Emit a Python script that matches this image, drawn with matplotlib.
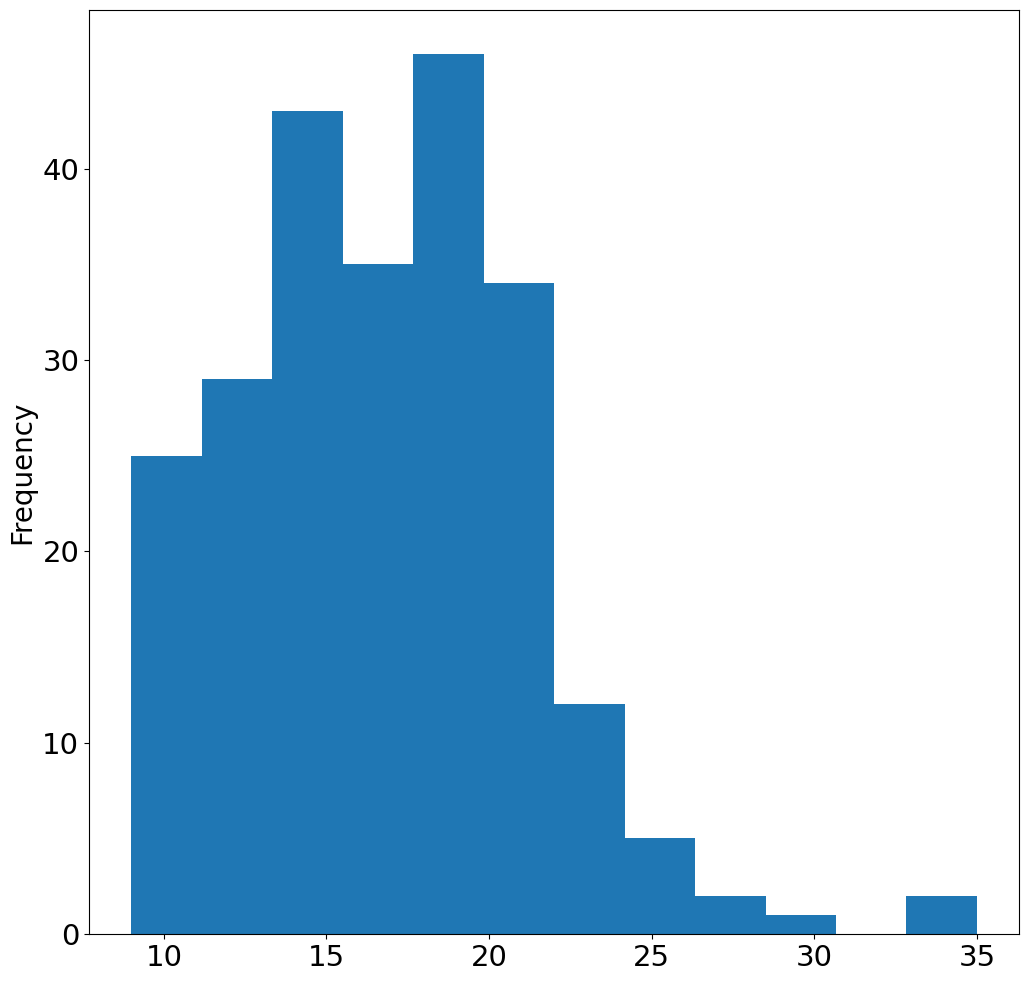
import numpy as np
import matplotlib
matplotlib.use("Agg")
import matplotlib.pyplot as plt

# histogram: 12 equal bins between 9 and 35
bin_lo = 9
bin_hi = 35
counts = [25, 29, 43, 35, 46, 34, 12, 5, 2, 1, 0, 2]

edges = np.linspace(bin_lo, bin_hi, len(counts) + 1)
centers = (edges[:-1] + edges[1:]) / 2

fig = plt.figure(figsize=(10.29, 9.81), dpi=100)
ax = fig.add_axes([0.0865, 0.048, 0.904, 0.942])
ax.hist(centers, bins=edges, weights=counts, color='#1f77b4')

ax.set_ylabel('Frequency', fontsize=20)
ax.tick_params(labelsize=21)
ax.set_xticks([10, 15, 20, 25, 30, 35])
ax.set_yticks([0, 10, 20, 30, 40])

fig.savefig('out.png', dpi=100)
